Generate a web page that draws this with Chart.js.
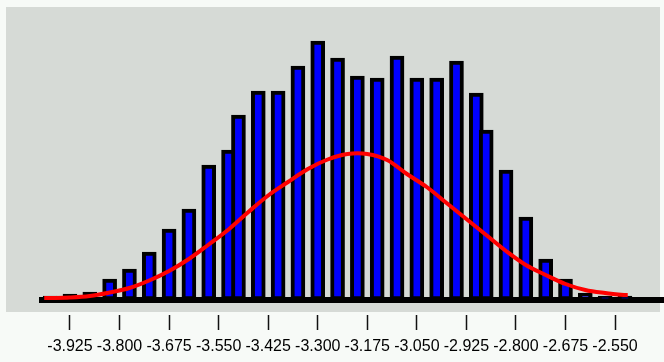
<!DOCTYPE html>
<html>
<head>
<meta charset="utf-8">
<script src="https://cdn.jsdelivr.net/npm/chart.js@4/dist/chart.umd.min.js"></script>
<style>
  html, body { margin: 0; padding: 0; background: #f7faf7; }
  #wrap { width: 664px; height: 362px; }
</style>
</head>
<body>
<div id="wrap"><canvas id="hist" width="664" height="362"></canvas></div>
<script>
// Histogram bin centres and counts
const binCenters = [
  -3.975, -3.925, -3.875, -3.825, -3.775, -3.725, -3.675, -3.625, -3.575, -3.525,
  -3.500, -3.450, -3.400, -3.350, -3.300, -3.250, -3.200, -3.150, -3.100, -3.050,
  -3.000, -2.950, -2.900, -2.875, -2.825, -2.775, -2.725, -2.675, -2.625, -2.575,
  -2.525
];
const binCounts = [
  2, 3, 4, 10.5, 15.5, 24, 35.5, 45.5, 67.5, 75,
  92.5, 104.5, 104.5, 117, 129.5, 121, 112, 111, 122, 111,
  111, 119.5, 103.5, 85, 65, 41.5, 20.5, 10.5, 3.5, 2,
  2
];

// Fitted normal density, sampled along the same range
const fitX = [
  -3.990, -3.975, -3.925, -3.875, -3.825, -3.775, -3.725, -3.675, -3.625, -3.575, -3.525,
  -3.475, -3.425, -3.375, -3.325, -3.275, -3.225, -3.175, -3.125, -3.075, -3.025,
  -2.975, -2.925, -2.875, -2.825, -2.775, -2.725, -2.675, -2.625, -2.575, -2.525, -2.518
];
const fitY = [
  1, 1, 1.25, 2, 3.75, 6, 9.75, 14.5, 20.5, 27.75, 35.25,
  44, 52.25, 59, 65.5, 70.25, 73, 73, 70, 63, 56.5,
  48.5, 40.5, 32.5, 24.5, 17.5, 12.5, 8, 5, 3.5, 2.5, 2.5
];

// Axis tick positions and their labels
const tickValues = [-3.925, -3.800, -3.675, -3.550, -3.425, -3.300, -3.175, -3.050, -2.925, -2.800, -2.675, -2.550];
const tickLabels = ['-3.925', '-3.800', '-3.675', '-3.550', '-3.425', '-3.300', '-3.175', '-3.050', '-2.925', '-2.800', '-2.675', '-2.550'];

// Grey plotting panel behind the bars
const panel = {
  id: 'panel',
  beforeDraw(chart) {
    const { ctx, width, height } = chart;
    ctx.save();
    ctx.fillStyle = '#f7faf7';
    ctx.fillRect(0, 0, width, height);
    ctx.fillStyle = '#d6dad6';
    ctx.fillRect(6, 7, 654, 305);
    ctx.restore();
  }
};

new Chart(document.getElementById('hist'), {
  type: 'bar',
  data: {
    datasets: [
      {
        type: 'line',
        data: fitX.map((x, i) => ({ x, y: fitY[i] })),
        borderColor: '#ff0000',
        borderWidth: 4,
        pointRadius: 0,
        tension: 0.35,
        fill: false,
        order: 0
      },
      {
        type: 'bar',
        data: binCenters.map((x, i) => ({ x, y: binCounts[i] })),
        backgroundColor: '#0000ff',
        borderColor: '#000000',
        borderWidth: 4,
        borderSkipped: false,
        barThickness: 14,
        order: 1
      }
    ]
  },
  options: {
    responsive: false,
    devicePixelRatio: 1,
    animation: false,
    events: [],
    layout: { padding: { left: 42, right: 0, top: 0, bottom: 0 } },
    plugins: { legend: { display: false }, tooltip: { enabled: false } },
    scales: {
      x: {
        type: 'linear',
        min: -3.9956,
        max: -2.4265,
        offset: false,
        afterBuildTicks(scale) {
          scale.ticks = tickValues.map(v => ({ value: v }));
        },
        afterFit(scale) {
          // fixed band for tick marks and labels under the plot
          scale.height = 62;
        },
        border: { display: true, color: '#000000', width: 6 },
        grid: {
          offset: false,
          drawOnChartArea: false,
          drawTicks: true,
          tickLength: 30,
          tickColor: '#111111',
          tickWidth: 1.5,
          tickBorderDash: [0, 12, 15, 100]
        },
        ticks: {
          autoSkip: false,
          maxRotation: 0,
          minRotation: 0,
          padding: 7,
          color: '#000000',
          font: { family: 'Liberation Sans', size: 16 },
          callback(value, index) { return tickLabels[index]; }
        }
      },
      y: {
        display: false,
        min: 0,
        max: 150
      }
    }
  },
  plugins: [panel]
});
</script>
</body>
</html>
